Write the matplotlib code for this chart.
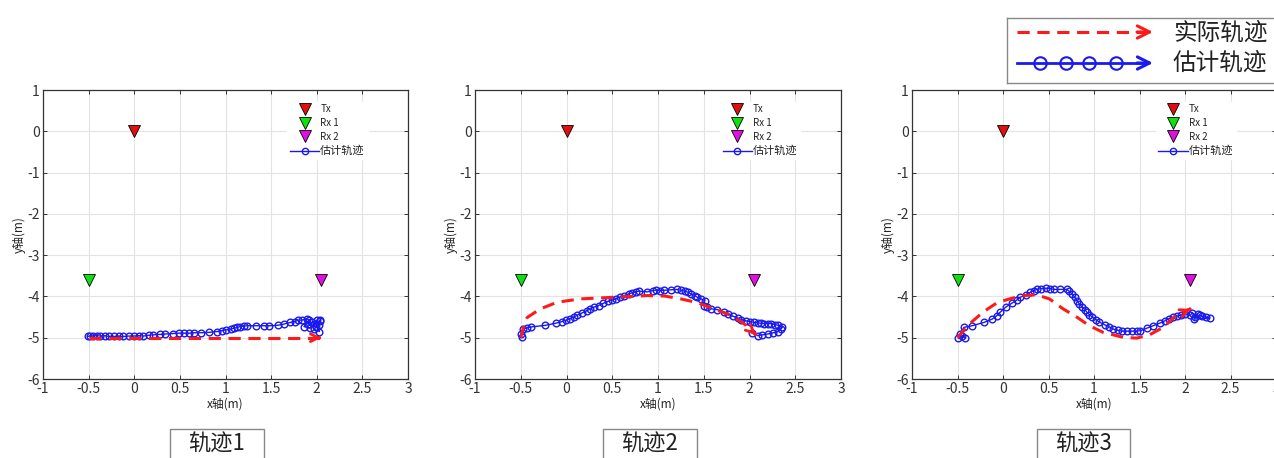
# -*- coding: utf-8 -*-
"""三つの軌跡 (実際 / 推定) を並べて描く。"""

import matplotlib
matplotlib.use("Agg")
import matplotlib.pyplot as plt
from matplotlib.patches import Rectangle

plt.rcParams["font.family"] = ["Noto Sans CJK SC", "DejaVu Sans"]
plt.rcParams["axes.unicode_minus"] = False

W, H = 1274, 458

# アンテナ位置
TX = (0.0, 0.0)
RX1 = (-0.5, -3.6)
RX2 = (2.05, -3.6)

# 軌跡1
ACT1_X = [-0.5, 2.05]
ACT1_Y = [-5.0, -5.0]
EST1_X = [-0.51, -0.48, -0.45, -0.41, -0.37, -0.32, -0.28, -0.22, -0.17, -0.12, -0.06,
          -0.005, 0.05, 0.10, 0.16, 0.21, 0.28, 0.34, 0.42, 0.49, 0.55, 0.60, 0.66, 0.73,
          0.82, 0.91, 0.96, 1.0, 1.06, 1.09, 1.13, 1.16, 1.20, 1.24, 1.33, 1.42, 1.48,
          1.57, 1.64, 1.71, 1.76, 1.79, 1.84, 1.89, 1.92, 1.86, 1.93, 2.0, 2.03, 1.97,
          2.02, 1.95, 2.04, 1.90, 1.99, 2.04]
EST1_Y = [-4.97, -4.95, -4.96, -4.95, -4.96, -4.95, -4.97, -4.97, -4.96, -4.97, -4.96,
          -4.96, -4.95, -4.96, -4.94, -4.93, -4.92, -4.91, -4.90, -4.89, -4.89, -4.89,
          -4.88, -4.88, -4.87, -4.85, -4.83, -4.81, -4.79, -4.77, -4.75, -4.73, -4.72,
          -4.71, -4.71, -4.71, -4.71, -4.70, -4.67, -4.63, -4.61, -4.58, -4.57, -4.55,
          -4.56, -4.73, -4.77, -4.58, -4.85, -4.79, -4.69, -4.62, -4.60, -4.66, -4.74,
          -4.56]

# 軌跡2
ACT2_X = [-0.5, -0.47, -0.43, -0.285, -0.10, 0.15, 0.52, 0.88, 1.07, 1.25, 1.43, 1.61,
          1.80, 1.94, 2.07]
ACT2_Y = [-5.0, -4.75, -4.51, -4.30, -4.14, -4.06, -4.02, -3.98, -3.99, -4.06, -4.15,
          -4.30, -4.46, -4.66, -4.93]
EST2_X = [-0.49, -0.50, -0.47, -0.43, -0.39, -0.23, -0.12, -0.05, -0.01, 0.04, 0.08,
          0.12, 0.17, 0.22, 0.26, 0.30, 0.35, 0.40, 0.45, 0.50, 0.54, 0.58, 0.63, 0.68,
          0.72, 0.76, 0.79, 0.88, 0.94, 0.98, 1.02, 1.07, 1.14, 1.21, 1.25, 1.29, 1.33,
          1.36, 1.40, 1.43, 1.47, 1.51, 1.50, 1.54, 1.58, 1.65, 1.72, 1.77, 1.82, 1.87,
          1.91, 1.96, 2.00, 2.05, 2.09, 2.13, 2.16, 2.20, 2.24, 2.28, 2.31, 2.36, 2.34,
          2.31, 2.26, 2.20, 2.14, 2.09, 2.03]
EST2_Y = [-4.99, -4.90, -4.79, -4.76, -4.74, -4.70, -4.65, -4.61, -4.58, -4.54, -4.50,
          -4.45, -4.40, -4.35, -4.30, -4.26, -4.22, -4.17, -4.12, -4.09, -4.06, -4.02,
          -3.98, -3.94, -3.91, -3.89, -3.87, -3.89, -3.86, -3.85, -3.86, -3.85, -3.84,
          -3.83, -3.85, -3.87, -3.90, -3.94, -3.98, -4.02, -4.06, -4.10, -4.22, -4.26,
          -4.30, -4.32, -4.38, -4.43, -4.48, -4.52, -4.56, -4.59, -4.61, -4.63, -4.64,
          -4.65, -4.66, -4.66, -4.66, -4.68, -4.70, -4.74, -4.80, -4.85, -4.88, -4.91,
          -4.93, -4.95, -4.89]

# 軌跡3
ACT3_X = [-0.5, -0.37, -0.22, -0.07, 0.07, 0.22, 0.37, 0.51, 0.66, 0.81, 0.95, 1.10,
          1.32, 1.47, 1.61, 1.76, 1.90, 2.06]
ACT3_Y = [-5.0, -4.67, -4.38, -4.16, -4.06, -3.98, -3.96, -4.06, -4.30, -4.50, -4.71,
          -4.87, -4.99, -5.01, -4.93, -4.75, -4.46, -4.30]
EST3_X = [-0.49, -0.45, -0.42, -0.47, -0.43, -0.34, -0.21, -0.12, -0.07, -0.03, 0.03,
          0.10, 0.15, 0.19, 0.25, 0.30, 0.34, 0.37, 0.42, 0.47, 0.52, 0.56, 0.63, 0.70,
          0.73, 0.76, 0.79, 0.81, 0.84, 0.87, 0.90, 0.92, 0.95, 0.98, 1.02, 1.05, 1.12,
          1.17, 1.21, 1.26, 1.31, 1.36, 1.42, 1.47, 1.51, 1.58, 1.65, 1.73, 1.78, 1.82,
          1.87, 1.91, 1.96, 2.00, 2.06, 2.08, 2.11, 2.16, 2.19, 2.23, 2.27, 2.10, 2.14]
EST3_Y = [-5.01, -4.95, -5.0, -4.90, -4.75, -4.71, -4.63, -4.55, -4.47, -4.38, -4.26,
          -4.16, -4.09, -4.02, -3.96, -3.90, -3.86, -3.83, -3.81, -3.80, -3.81, -3.83,
          -3.83, -3.83, -3.88, -3.94, -4.02, -4.10, -4.18, -4.26, -4.32, -4.38, -4.44,
          -4.50, -4.56, -4.61, -4.69, -4.74, -4.79, -4.82, -4.84, -4.84, -4.84, -4.84,
          -4.83, -4.77, -4.71, -4.64, -4.59, -4.54, -4.51, -4.48, -4.45, -4.42, -4.45,
          -4.40, -4.50, -4.46, -4.48, -4.50, -4.52, -4.55, -4.42]

TRAJS = [(ACT1_X, ACT1_Y, EST1_X, EST1_Y),
         (ACT2_X, ACT2_Y, EST2_X, EST2_Y),
         (ACT3_X, ACT3_Y, EST3_X, EST3_Y)]
PANEL_LABELS = ["轨迹1", "轨迹2", "轨迹3"]

X_TICKS = [-1, -0.5, 0, 0.5, 1, 1.5, 2, 2.5, 3]
X_TICKLABELS = ["-1", "-0.5", "0", "0.5", "1", "1.5", "2", "2.5", "3"]
Y_TICKS = [1, 0, -1, -2, -3, -4, -5, -6]

RED = "#ff1a1a"
BLUE = "#1a1aee"

# 各パネルの位置 (ピクセル: 左, 右)
PANEL_PX = [(43, 408), (475, 841), (912, 1276)]
BOX_PX = [(170, 264), (603, 697), (1037, 1130)]
AX_TOP, AX_BOT = 90, 379

fig = plt.figure(figsize=(W / 100, H / 100), dpi=100)

for (l, r), (ax_, ay_, ex_, ey_) in zip(PANEL_PX, TRAJS):
    ax = fig.add_axes([l / W, 1 - AX_BOT / H, (r - l) / W, (AX_BOT - AX_TOP) / H])
    ax.set_xlim(-1, 3)
    ax.set_ylim(-6, 1)
    ax.set_xticks(X_TICKS)
    ax.set_xticklabels(X_TICKLABELS)
    ax.set_yticks(Y_TICKS)
    ax.grid(True, color="#e3e3e3", lw=0.8)
    ax.set_axisbelow(True)
    ax.tick_params(direction="in", top=True, right=True, labelsize=10,
                   length=3, width=0.7, colors="#333333", pad=2.5)
    for s in ax.spines.values():
        s.set_color("#333333")
        s.set_linewidth(0.9)
    ax.set_xlabel("x轴(m)", fontsize=8.5, labelpad=1, color="#222222")
    ax.set_ylabel("y轴(m)", fontsize=8.5, labelpad=1, color="#222222")

    ax.plot(*TX, "v", color="#e01010", mec="k", mew=0.6, ms=9, label="Tx", zorder=4)
    ax.plot(*RX1, "v", color="#10e010", mec="k", mew=0.6, ms=9, label="Rx 1", zorder=4)
    ax.plot(*RX2, "v", color="#e010e0", mec="k", mew=0.6, ms=9, label="Rx 2", zorder=4)
    ax.plot(ex_, ey_, "-o", color=BLUE, lw=1.0, ms=4.8, mfc="none", mew=1.0,
            label="估计轨迹", zorder=3)

    # 実際の軌跡 (破線 + 矢印)
    ax.plot(ax_, ay_, "--", color=RED, lw=2.2, dashes=(4, 2.5), zorder=5)
    ax.annotate("", xy=(ax_[-1], ay_[-1]),
                xytext=(ax_[-1] - (ax_[-1] - ax_[-2]) * 0.01, ay_[-1] - (ay_[-1] - ay_[-2]) * 0.01),
                arrowprops=dict(arrowstyle="->", color=RED, lw=2.0,
                                mutation_scale=14, shrinkA=0, shrinkB=0), zorder=5)

    leg = ax.legend(loc="upper left", bbox_to_anchor=(0.669, 0.96), fontsize=7,
                    frameon=True, framealpha=1, edgecolor="white", borderaxespad=0,
                    borderpad=0.3, labelspacing=0.38, handlelength=3.0,
                    handletextpad=0.1, markerscale=0.95)
    for t in leg.get_texts():
        t.set_color("#222222")
    leg.get_texts()[-1].set_fontsize(8)

# 下のラベル枠
for (bl, br), lab in zip(BOX_PX, PANEL_LABELS):
    fig.patches.append(Rectangle((bl / W, 1 - 470 / H), (br - bl) / W, 41 / H,
                                 transform=fig.transFigure, fill=False,
                                 ec="#888888", lw=1.0))
    fig.text((bl + br) / 2 / W, 1 - 444 / H, lab, ha="center", va="center",
             fontsize=16, color="#222222")

# 全体凡例 (右上)
lg = fig.add_axes([1007 / W, 1 - 83 / H, 290 / W, 65 / H])
lg.set_xlim(0, 290)
lg.set_ylim(65, 0)
lg.set_xticks([])
lg.set_yticks([])
for s in lg.spines.values():
    s.set_color("#888888")
    s.set_linewidth(1.0)
lg.plot([10, 140], [14, 14], "--", color=RED, lw=2.2, dashes=(4, 2.5))
lg.annotate("", xy=(146, 14), xytext=(130, 14),
            arrowprops=dict(arrowstyle="->", color=RED, lw=2.2, mutation_scale=22,
                            shrinkA=0, shrinkB=0))
lg.plot([10, 140], [45, 45], "-", color=BLUE, lw=2.0)
lg.plot([33, 59, 82, 109], [45, 45, 45, 45], "o", color=BLUE, ms=9, mfc="none", mew=1.5)
lg.annotate("", xy=(146, 45), xytext=(130, 45),
            arrowprops=dict(arrowstyle="->", color=BLUE, lw=2.2, mutation_scale=22,
                            shrinkA=0, shrinkB=0))
lg.text(166, 15, "实际轨迹", fontsize=17, va="center", ha="left", color="#222222")
lg.text(166, 45, "估计轨迹", fontsize=17, va="center", ha="left", color="#222222")

fig.savefig("out.png", dpi=100)
